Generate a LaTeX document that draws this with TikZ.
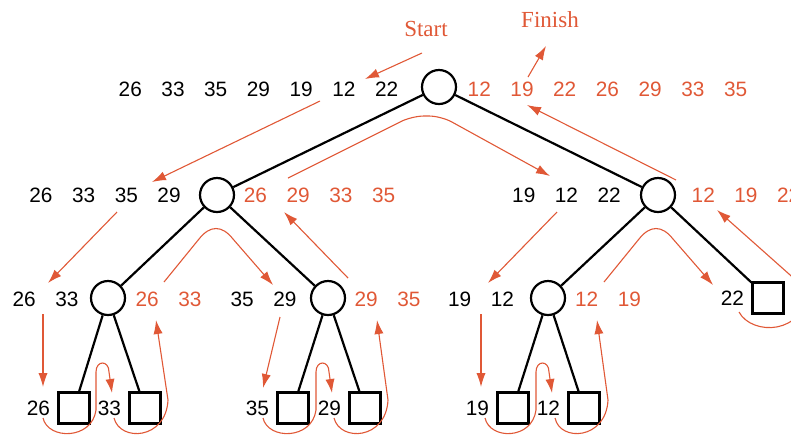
\documentclass[tikz,border=0pt]{standalone}
\usepackage{fontspec}
\setsansfont{Liberation Sans}
\newfontfamily\tagfont{Liberation Serif}
\usepackage{xcolor}
\usepackage{tikz}
\usetikzlibrary{arrows.meta, positioning}

\definecolor{flow}{RGB}{224,88,54}
\newcommand{\kgap}{\hspace{9.8pt}}

\begin{document}
\begin{tikzpicture}[
  x=0.5pt, y=-0.5pt,
  mergenode/.style={
    circle, draw=black, line width=1.1pt,
    minimum size=17pt, inner sep=0pt
  },
  leafnode/.style={
    rectangle, draw=black, line width=1.1pt,
    minimum size=15.5pt, inner sep=0pt
  },
  keyrow/.style={font=\fontsize{10.4}{12}\selectfont\sffamily, text=black, inner sep=0pt},
  sortrow/.style={keyrow, text=flow},
  marker/.style={font=\fontsize{11.5}{13}\selectfont\tagfont, text=flow, inner sep=0pt},
  treeedge/.style={draw, line width=1.1pt, black},
  flowedge/.style={draw=flow, line width=0.55pt, -{Latex[length=7pt, width=4.6pt]}},
]
\useasboundingbox (0,0) rectangle (791,436);

% ============================================================
% TREE
% ============================================================
\node[mergenode] (root) at (439,87) {};
\node[mergenode] (l)  at (217,195) {};
\node[mergenode] (r)  at (658,195) {};
\node[mergenode] (ll) at (108,298) {};
\node[mergenode] (lr) at (328,298) {};
\node[mergenode] (rl) at (548,298) {};
\node[leafnode]  (rr) at (768,298) {};
\node[leafnode] (lll) at (74,408) {};
\node[leafnode] (llr) at (145,408) {};
\node[leafnode] (lrl) at (293,408) {};
\node[leafnode] (lrr) at (365,408) {};
\node[leafnode] (rll) at (513,408) {};
\node[leafnode] (rlr) at (584,408) {};

\draw[treeedge] (root) -- (l);
\draw[treeedge] (root) -- (r);
\draw[treeedge] (l) -- (ll);
\draw[treeedge] (l) -- (lr);
\draw[treeedge] (r) -- (rl);
\draw[treeedge] (r) -- (rr);
\draw[treeedge] (ll) -- (lll);
\draw[treeedge] (ll) -- (llr);
\draw[treeedge] (lr) -- (lrl);
\draw[treeedge] (lr) -- (lrr);
\draw[treeedge] (rl) -- (rll);
\draw[treeedge] (rl) -- (rlr);

% ============================================================
% KEYS: unsorted (black) and sorted (orange)
% ============================================================
\node[keyrow]  (rootin)  at (258.5,89.5) {26\kgap33\kgap35\kgap29\kgap19\kgap12\kgap22};
\node[sortrow] (rootout) at (607.5,89.5) {12\kgap19\kgap22\kgap26\kgap29\kgap33\kgap35};
\node[keyrow]  (lin)  at (105,195.5)   {26\kgap33\kgap35\kgap29};
\node[sortrow] (lout) at (319.5,195.5) {26\kgap29\kgap33\kgap35};
\node[keyrow]  (rin)  at (566.5,195.5) {19\kgap12\kgap22};
\node[sortrow] (rout) at (746,195.5)   {12\kgap19\kgap22};
\node[keyrow]  (llin)  at (45.5,299.5)  {26\kgap33};
\node[sortrow] (llout) at (168.5,299.5) {26\kgap33};
\node[keyrow]  (lrin)  at (263.5,299.5) {35\kgap29};
\node[sortrow] (lrout) at (387.5,299.5) {29\kgap35};
\node[keyrow]  (rlin)  at (481,299.5)   {19\kgap12};
\node[sortrow] (rlout) at (608,299.5)   {12\kgap19};
\node[keyrow, left=3.5pt of rr] (rrkey) {22};

\node[keyrow, left=3.5pt of lll] (k1) {26};
\node[keyrow, left=3.5pt of llr] (k2) {33};
\node[keyrow, left=3.5pt of lrl] (k3) {35};
\node[keyrow, left=3.5pt of lrr] (k4) {29};
\node[keyrow, left=3.5pt of rll] (k5) {19};
\node[keyrow, left=3.5pt of rlr] (k6) {12};

\node[marker] (start)  at (426,29) {Start};
\node[marker] (finish) at (550,20) {Finish};

% ============================================================
% FLOW OF THE SORT (orange)
% ============================================================
\coordinate (s0) at (422,53);  \coordinate (s1) at (365,79);
\coordinate (f0) at (528,77);  \coordinate (f1) at (546,46);
\draw[flowedge] (s0) -- (s1);
\draw[flowedge] (f0) -- (f1);

% --- root level ---
\coordinate (a0) at (320,101); \coordinate (a1) at (152,182);
\coordinate (b0) at (288,178); \coordinate (b1) at (550,176);
\coordinate (c0) at (676,180); \coordinate (c1) at (527,105);
\draw[flowedge] (a0) -- (a1);
\draw[flowedge, rounded corners=6pt] (b0) -- (412,116) -- (441,116) -- (b1);
\draw[flowedge] (c0) -- (c1);

% --- left and right halves ---
\coordinate (d0) at (117,212); \coordinate (d1) at (48,283);
\coordinate (e0) at (164,282); \coordinate (e1) at (273,285);
\coordinate (g0) at (348,278); \coordinate (g1) at (284,212);
\draw[flowedge] (d0) -- (d1);
\draw[flowedge] (e0) -- (199,239) .. controls (210,225) and (222,225) .. (233,239) -- (e1);
\draw[flowedge] (g0) -- (g1);

\coordinate (h0) at (557,212); \coordinate (h1) at (488,283);
\coordinate (i0) at (604,282); \coordinate (i1) at (713,285);
\coordinate (j0) at (739,312); \coordinate (j1) at (717,210);
\draw[flowedge] (h0) -- (h1);
\draw[flowedge] (i0) -- (639,239) .. controls (650,225) and (662,225) .. (673,239) -- (i1);
\draw[flowedge] (j0) .. controls (752,336) and (805,335) .. (807,290) -- (j1);

% --- leaves ---
\coordinate (m0) at (43,314);  \coordinate (m1) at (43,387);
\coordinate (m2) at (43,418);  \coordinate (m3) at (112,393);
\coordinate (m4) at (114,418); \coordinate (m5) at (156,320);
\draw[flowedge] (m0) -- (m1);
\draw[flowedge] (m2) .. controls (48,440) and (92,440) .. (96,410) -- (96,372)
  .. controls (96,360) and (109,360) .. (109,372) -- (m3);
\draw[flowedge] (m4) .. controls (120,442) and (166,440) .. (168,400) -- (m5);

\coordinate (n0) at (280,317); \coordinate (n1) at (263,388);
\coordinate (n2) at (263,418); \coordinate (n3) at (332,393);
\coordinate (n4) at (334,418); \coordinate (n5) at (377,320);
\draw[flowedge] (n0) -- (n1);
\draw[flowedge] (n2) .. controls (268,440) and (312,440) .. (316,410) -- (316,372)
  .. controls (316,360) and (329,360) .. (329,372) -- (n3);
\draw[flowedge] (n4) .. controls (340,442) and (386,440) .. (388,400) -- (n5);

\coordinate (o0) at (481,314); \coordinate (o1) at (481,387);
\coordinate (o2) at (485,418); \coordinate (o3) at (552,393);
\coordinate (o4) at (555,418); \coordinate (o5) at (597,320);
\draw[flowedge] (o0) -- (o1);
\draw[flowedge] (o2) .. controls (490,440) and (532,440) .. (536,410) -- (536,372)
  .. controls (536,360) and (549,360) .. (549,372) -- (o3);
\draw[flowedge] (o4) .. controls (560,442) and (606,440) .. (608,400) -- (o5);

\end{tikzpicture}
\end{document}
